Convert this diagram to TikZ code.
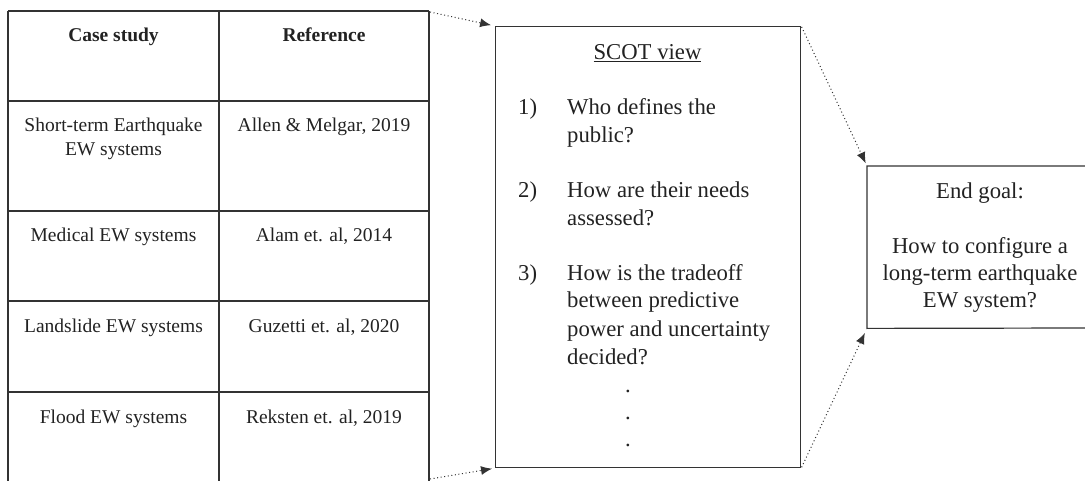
\documentclass[tikz,border=0pt]{standalone}
\usepackage{fontspec}
\setmainfont{Liberation Serif}
\usetikzlibrary{arrows.meta}
\definecolor{ink}{HTML}{222222}
\definecolor{rule}{HTML}{333333}
\begin{document}
\begin{tikzpicture}[x=1pt,y=-1pt,
  grid/.style={draw=rule, line width=1.1pt},
  box/.style={draw=rule, line width=1.2pt},
  conn/.style={draw=rule, line width=1pt, dash pattern=on 1pt off 2.6pt, -{Latex[length=11pt,width=9pt]}},
  cell/.style={anchor=base, inner sep=0pt, text=ink, font=\fontsize{19.5}{23.8}\selectfont},
  big/.style={inner sep=0pt, text=ink, font=\fontsize{22.7}{28}\selectfont},
  ]
\useasboundingbox (0,0) rectangle (1085,481);

% table grid
\coordinate (tl) at (8,11);
\coordinate (tr) at (429,11);
\coordinate (br) at (429,481);
\draw[grid] (tl) -- (tr);
\draw[grid] (8,101) -- (429,101);
\draw[grid] (8,211) -- (429,211);
\draw[grid] (8,301) -- (429,301);
\draw[grid] (8,392) -- (429,392);
\draw[grid] (tl) -- (8,481);
\draw[grid] (219,11) -- (219,481);
\draw[grid] (tr) -- (br);

% table text
\node[cell] (h1) at (113.5,41.5) {\textbf{Case study}};
\node[cell] (h2) at (324,41.5) {\textbf{Reference}};
\node[cell] (r1a) at (113.5,132) {Short-term Earthquake};
\node[cell] (r1a2) at (113.5,156) {EW systems};
\node[cell] (r1b) at (324,132) {Allen \& Melgar, 2019};
\node[cell] (r2a) at (113.5,241.5) {Medical EW systems};
\node[cell] (r2b) at (324,241.5) {Alam et. al, 2014};
\node[cell] (r3a) at (113.5,332) {Landslide EW systems};
\node[cell] (r3b) at (324,332) {Guzetti et. al, 2020};
\node[cell] (r4a) at (113.5,423) {Flood EW systems};
\node[cell] (r4b) at (324,423) {Reksten et. al, 2019};

% SCOT box
\node[box, minimum width=305pt, minimum height=441pt, anchor=north west, inner sep=0pt] (scot) at (495,26) {};
\node[big, anchor=base] (scotT) at (647.5,60) {\underline{SCOT view}};
\node[big, anchor=base west] (n1) at (518,115) {1)};
\node[big, anchor=base west] (q1a) at (567,115) {Who defines the};
\node[big, anchor=base west] (q1b) at (567,143) {public?};
\node[big, anchor=base west] (n2) at (518,198) {2)};
\node[big, anchor=base west] (q2a) at (567,198) {How are their needs};
\node[big, anchor=base west] (q2b) at (567,226) {assessed?};
\node[big, anchor=base west] (n3) at (518,280) {3)};
\node[big, anchor=base west] (q3a) at (567,280) {How is the tradeoff};
\node[big, anchor=base west] (q3b) at (567,308) {between predictive};
\node[big, anchor=base west] (q3c) at (567,336) {power and uncertainty};
\node[big, anchor=base west] (q3d) at (567,364) {decided?};
\node[big, anchor=base] (d1) at (628,392) {.};
\node[big, anchor=base] (d2) at (628,419) {.};
\node[big, anchor=base] (d3) at (628,446) {.};

% End goal box (runs past the right edge)
\node[minimum width=226pt, minimum height=162pt, anchor=north west, inner sep=0pt] (goal) at (867,166) {};
\draw[box] (1086,166) -- (goal.north west) -- (goal.south west) -- (1086,328);
\node[big, anchor=base] (g1) at (980,199) {End goal:};
\node[big, anchor=base] (g2) at (980,254) {How to configure a};
\node[big, anchor=base] (g3) at (980,281) {long-term earthquake};
\node[big, anchor=base] (g4) at (980,308) {EW system?};

% connectors
\coordinate (tr2) at (430,12);
\coordinate (bsr) at (430,479);
\draw[conn, shorten >=4pt] (tr2) -- (scot.north west);
\draw[conn, shorten >=3pt] (bsr) -- (scot.south west);
\draw[conn, shorten <=1pt, shorten >=3pt] (scot.north east) -- (goal.north west);
\draw[conn, shorten <=1pt, shorten >=5pt] (scot.south east) -- (goal.south west);
\end{tikzpicture}
\end{document}
